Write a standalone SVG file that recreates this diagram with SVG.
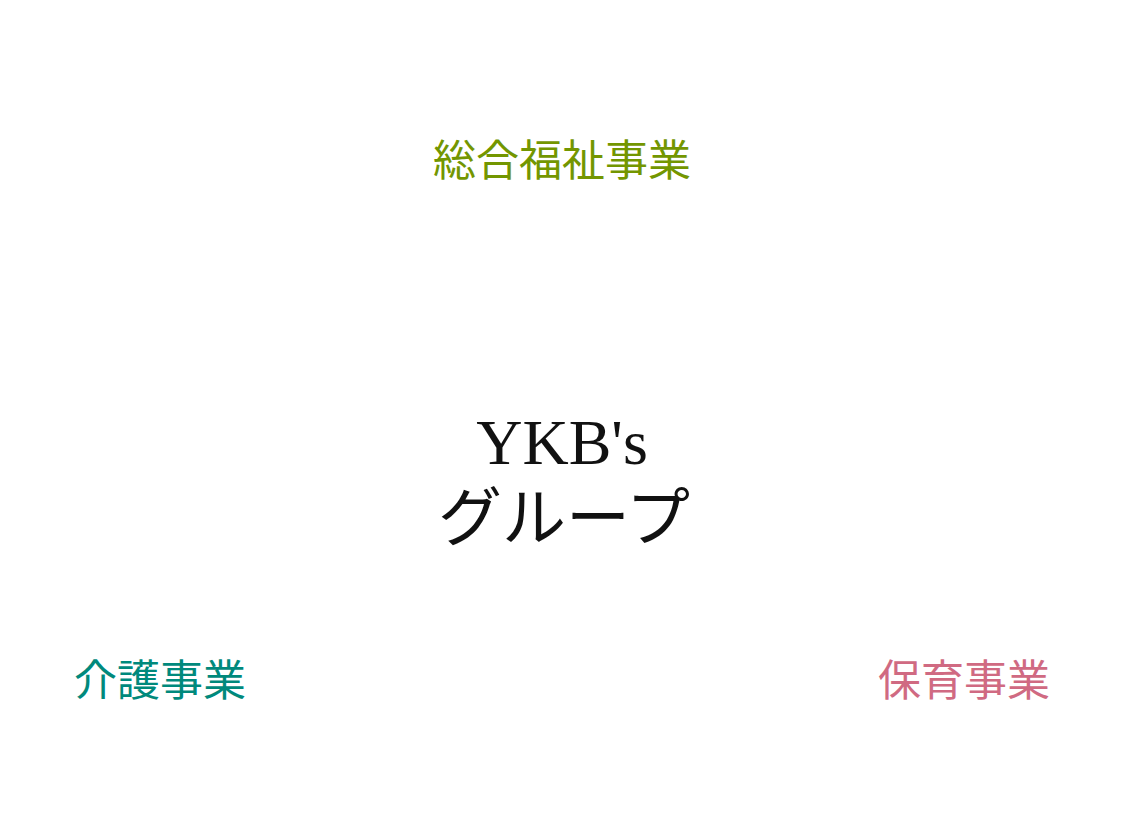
<svg xmlns="http://www.w3.org/2000/svg" width="1124" height="840" viewBox="0 0 1124 840">
<style>
.t{font-family:"Liberation Serif","Noto Sans CJK JP",serif;text-anchor:middle}
.s{font-size:43px}
.c{font-size:64px;fill:#111}
</style>
<rect width="1124" height="840" fill="#fff"/>
<g id="node-sogo"><text class="t s" x="562" y="176" fill="#739600">総合福祉事業</text></g>
<g id="node-center"><text class="t c" x="562" y="464">YKB's</text><text class="t c" x="564" y="540">グループ</text></g>
<g id="node-kaigo"><text class="t s" x="160" y="696" fill="#00897c">介護事業</text></g>
<g id="node-hoiku"><text class="t s" x="964" y="696" fill="#d06a82">保育事業</text></g>
<g id="connectors"></g>
</svg>
